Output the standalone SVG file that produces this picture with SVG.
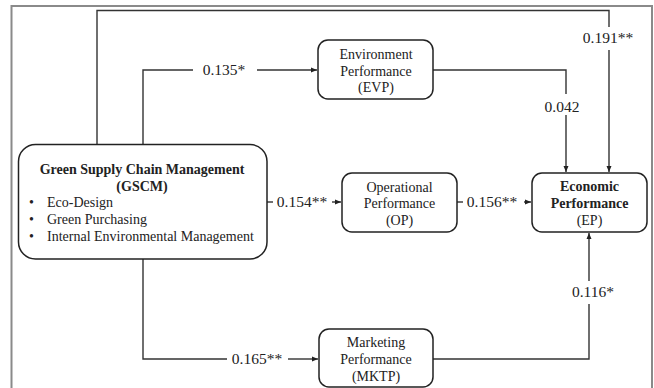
<svg xmlns="http://www.w3.org/2000/svg" width="654" height="388" viewBox="0 0 654 388">
<style>
.box{fill:#fff;stroke:#222;stroke-width:1.5}
.t{font-family:"Liberation Serif","Times New Roman",serif;font-size:14px;fill:#222;text-anchor:middle}
.b{font-weight:bold}
.l{font-family:"Liberation Serif","Times New Roman",serif;font-size:15.5px;fill:#222;text-anchor:middle}
.c{fill:none;stroke:#333;stroke-width:1.4}
.li{text-anchor:start}
</style>
<defs>
<marker id="ah" markerUnits="userSpaceOnUse" markerWidth="6" markerHeight="6" refX="6" refY="3" orient="auto">
<path d="M0,0.5 L6,3 L0,5.5 z" fill="#222"/>
</marker>
</defs>
<rect x="0" y="0" width="654" height="388" fill="#fff"/>
<rect id="frame" x="11.5" y="6" width="640.5" height="390" fill="none" stroke="#8a8a8a" stroke-width="2"/>
<g id="connectors">
<path class="c" d="M97,144 V10.5 H609 V27"/>
<path class="c" d="M609,50 V172" marker-end="url(#ah)"/>
<path class="c" d="M143,144 V70 H193"/>
<path class="c" d="M257,70 H317" marker-end="url(#ah)"/>
<path class="c" d="M433,70 H566 V94"/>
<path class="c" d="M566,115 V172" marker-end="url(#ah)"/>
<path class="c" d="M267,202 H273"/>
<path class="c" d="M332,202 H341" marker-end="url(#ah)"/>
<path class="c" d="M457,202 H463"/>
<path class="c" d="M524,202 H531" marker-end="url(#ah)"/>
<path class="c" d="M143,259 V359 H227"/>
<path class="c" d="M288,359 H318" marker-end="url(#ah)"/>
<path class="c" d="M433,359 H589 V304"/>
<path class="c" d="M589,281 V233" marker-end="url(#ah)"/>
<text class="l" x="224" y="75">0.135*</text>
<text class="l" x="608" y="43">0.191**</text>
<text class="l" x="562" y="112">0.042</text>
<text class="l" x="302" y="207">0.154**</text>
<text class="l" x="492" y="207">0.156**</text>
<text class="l" x="593" y="297">0.116*</text>
<text class="l" x="257" y="364">0.165**</text>
</g>
<g id="GSCM">
<rect class="box" x="18.5" y="144.5" width="248.5" height="114.5" rx="17"/>
<text class="t b" x="142" y="174">Green Supply Chain Management</text>
<text class="t b" x="142" y="191">(GSCM)</text>
<text class="t li" x="29" y="207">•</text>
<text class="t li" x="47" y="207">Eco-Design</text>
<text class="t li" x="29" y="224">•</text>
<text class="t li" x="47" y="224">Green Purchasing</text>
<text class="t li" x="29" y="241">•</text>
<text class="t li" x="47" y="241">Internal Environmental Management</text>
</g>
<g id="EVP">
<rect class="box" x="318" y="40" width="115" height="59" rx="10"/>
<text class="t" x="376" y="59">Environment</text>
<text class="t" x="376" y="75.5">Performance</text>
<text class="t" x="376" y="92">(EVP)</text>
</g>
<g id="OP">
<rect class="box" x="342" y="173" width="115" height="59" rx="10"/>
<text class="t" x="399.5" y="191.5">Operational</text>
<text class="t" x="399.5" y="208">Performance</text>
<text class="t" x="399.5" y="224.5">(OP)</text>
</g>
<g id="EP">
<rect class="box" x="532" y="173" width="115" height="59" rx="10"/>
<text class="t b" x="589.5" y="191">Economic</text>
<text class="t b" x="589.5" y="208">Performance</text>
<text class="t" x="589.5" y="225">(EP)</text>
</g>
<g id="MKTP">
<rect class="box" x="319" y="329" width="114" height="58" rx="10"/>
<text class="t" x="376" y="347">Marketing</text>
<text class="t" x="376" y="364">Performance</text>
<text class="t" x="376" y="381">(MKTP)</text>
</g>
</svg>
